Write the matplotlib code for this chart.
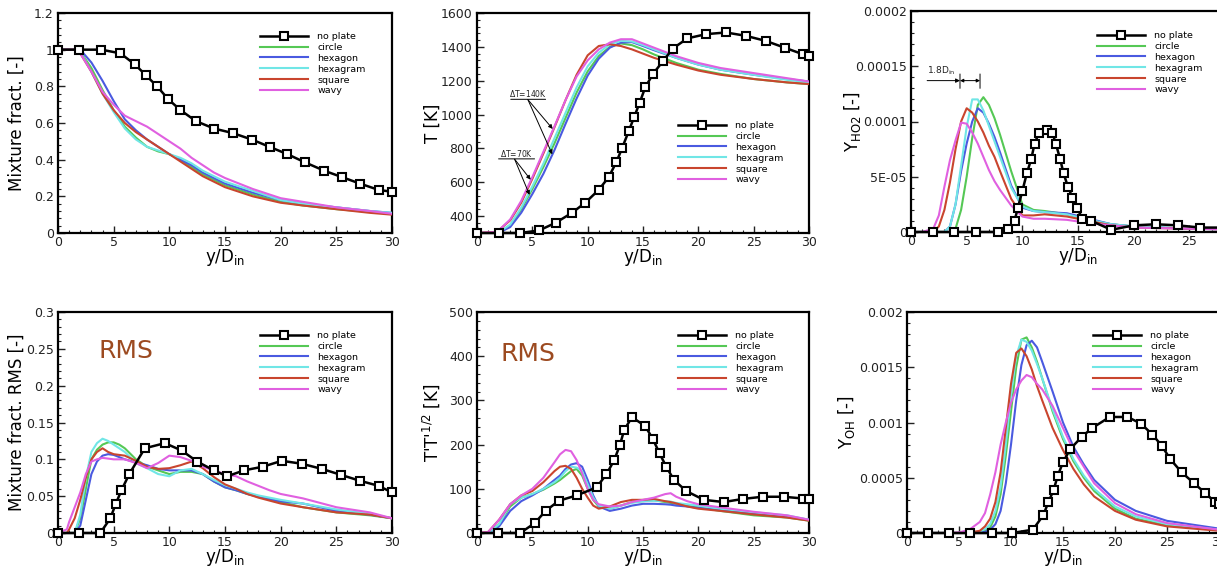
import numpy as np
import matplotlib
matplotlib.use("Agg")
import matplotlib.pyplot as plt
from matplotlib.ticker import MultipleLocator, AutoMinorLocator, FixedLocator, FixedFormatter

plt.rcParams['font.family'] = ['DejaVu Sans']
plt.rcParams['mathtext.default'] = 'regular'

# ---------------- data ----------------
names = ['no plate', 'circle', 'hexagon', 'hexagram', 'square', 'wavy']
colors = ['black', '#55c855', '#4a5ae0', '#70e6e6', '#c9452e', '#e060e0']

# mixture fraction
x_mf = [0, 1, 1.5, 2, 3, 4, 5, 6, 7, 8, 9, 10, 11, 12, 13, 14, 15, 17.5, 20, 22, 25, 28, 30]
mf_circle = [1, 1, 1, .99, .9, .78, .67, .58, .52, .47, .445, .43, .4, .36, .32, .29, .26, .21, .17, .15, .13, .115, .105]
mf_hexagon = [1, 1, 1, 1, .93, .83, .72, .62, .56, .51, .47, .43, .4, .37, .33, .3, .27, .22, .18, .16, .14, .12, .11]
mf_hexagram = [1, 1, 1, .99, .88, .76, .66, .57, .51, .47, .45, .43, .41, .38, .34, .31, .28, .23, .18, .16, .14, .12, .11]
mf_square = [1, 1, 1, .98, .88, .76, .67, .6, .55, .51, .47, .43, .39, .35, .31, .28, .25, .2, .165, .15, .13, .11, .1]
mf_wavy = [1, 1, 1, .98, .88, .77, .7, .64, .61, .58, .54, .5, .46, .41, .37, .33, .3, .24, .19, .17, .14, .12, .105]
x_mf_np = [0, 1.9, 3.9, 5.6, 6.9, 7.9, 8.9, 9.9, 11, 12.4, 14, 15.7, 17.4, 19, 20.6, 22.2, 23.9, 25.5, 27.1, 28.8, 30]
mf_noplate = [1, 1, 1, .98, .92, .86, .8, .73, .67, .61, .57, .545, .51, .47, .43, .385, .34, .305, .27, .235, .225]

# temperature
x_t = [0, 1.5, 2, 3, 4, 5, 6, 7, 8, 9, 10, 11, 12, 13, 14, 15, 16, 18, 20, 22, 25, 28, 30]
t_circle = [300, 300, 305, 345, 440, 560, 690, 830, 980, 1130, 1255, 1345, 1400, 1420, 1410, 1385, 1355, 1305, 1265, 1240, 1210, 1190, 1180]
t_hexagon = [300, 300, 302, 335, 420, 530, 650, 790, 945, 1095, 1230, 1330, 1395, 1425, 1428, 1405, 1380, 1335, 1295, 1265, 1235, 1210, 1195]
t_hexagram = [300, 300, 305, 350, 450, 575, 710, 860, 1010, 1160, 1285, 1365, 1415, 1435, 1432, 1410, 1385, 1335, 1295, 1265, 1235, 1205, 1190]
t_square = [300, 305, 318, 375, 480, 620, 770, 925, 1085, 1235, 1350, 1405, 1415, 1405, 1385, 1360, 1335, 1295, 1260, 1235, 1210, 1190, 1180]
t_wavy = [300, 305, 318, 380, 490, 630, 780, 930, 1085, 1225, 1320, 1385, 1425, 1445, 1445, 1420, 1395, 1345, 1305, 1275, 1245, 1215, 1195]
x_t_np = [0, 2, 3.9, 5.6, 7.1, 8.6, 9.8, 11, 11.9, 12.6, 13.1, 13.7, 14.2, 14.7, 15.2, 15.9, 16.8, 17.7, 19,
          20.7, 22.5, 24.3, 26.1, 27.8, 29.5, 30]
t_noplate = [300, 300, 300, 315, 360, 420, 480, 555, 630, 720, 800, 900, 985, 1070, 1160, 1240, 1315, 1390, 1450,
             1475, 1485, 1465, 1435, 1395, 1355, 1345]

# Y_HO2, in units of 1e-5
x_ho2 = [0, 1, 2, 2.5, 3, 3.5, 4, 4.5, 5, 5.5, 6, 6.5, 7, 7.5, 8, 9, 10, 11, 12, 14, 16, 18, 20, 25, 30]
ho2_circle = [0, 0, 0, 0, 0, 0, 0.3, 2.0, 5.0, 8.5, 11.5, 12.2, 11.5, 10.3, 8.8, 5.5, 2.5, 2.0, 1.9, 1.6, 1.1, 0.7, 0.5, 0.3, 0.2]
ho2_hexagon = [0, 0, 0, 0, 0, 0.5, 2.5, 5.5, 8.0, 10.0, 11.2, 10.8, 9.8, 8.6, 7.2, 4.2, 2.2, 1.9, 1.8, 1.7, 1.2, 0.7, 0.5, 0.3, 0.2]
ho2_hexagram = [0, 0, 0, 0, 0, 0.5, 2.5, 6.0, 9.5, 12.0, 12.0, 11.0, 9.6, 8.2, 6.8, 4.0, 2.3, 1.9, 1.8, 1.6, 1.1, 0.7, 0.5, 0.3, 0.2]
ho2_square = [0, 0, 0, 0.5, 2.0, 4.5, 7.5, 10.0, 11.2, 10.8, 10.0, 9.0, 7.8, 6.8, 5.5, 3.0, 1.5, 1.5, 1.6, 1.4, 1.0, 0.6, 0.4, 0.3, 0.2]
ho2_wavy = [0, 0, 0.3, 1.5, 4.1, 6.5, 8.3, 9.9, 9.8, 9.0, 8.0, 6.8, 5.6, 4.6, 3.8, 2.4, 1.4, 1.2, 1.2, 1.1, 0.8, 0.6, 0.4, 0.3, 0.2]
x_ho2_np = [0, 2, 3.9, 5.8, 7.8, 8.7, 9.3, 9.6, 10.0, 10.4, 10.8, 11.1, 11.5, 12.2, 12.7, 13.0, 13.4, 13.7, 14.1,
            14.5, 14.9, 15.4, 16.2, 18, 20, 22, 24, 26, 28, 30]
ho2_noplate = [0, 0, 0, 0, 0, 0.3, 1.0, 2.2, 3.7, 5.3, 6.6, 8.0, 9.0, 9.2, 9.0, 8.0, 6.6, 5.3, 4.1,
               3.1, 2.2, 1.2, 1.0, 0.2, 0.6, 0.7, 0.6, 0.4, 0.4, 0.3]

# mixture fraction RMS
x_mr = [0, 0.8, 1, 1.5, 2, 2.5, 3, 3.5, 4, 4.5, 5, 5.5, 6, 7, 8, 9, 10, 11, 12, 13, 14, 15, 16, 17, 18, 19, 20, 22, 25, 28, 30]
mr_circle = [0, 0, 0, 0, .02, .06, .1, .113, .12, .123, .123, .12, .115, .1, .09, .085, .08, .083, .083, .08, .07, .062, .058, .053, .05, .046, .042, .035, .028, .024, .02]
mr_hexagon = [0, 0, 0, 0, .01, .045, .08, .097, .105, .107, .106, .103, .1, .096, .092, .087, .085, .085, .085, .08, .07, .062, .058, .053, .049, .046, .043, .04, .03, .025, .02]
mr_hexagram = [0, 0, 0, 0, .025, .075, .11, .122, .128, .125, .12, .115, .11, .095, .088, .08, .077, .085, .087, .08, .072, .065, .06, .055, .051, .048, .045, .04, .032, .026, .02]
mr_square = [0, 0, .005, .02, .045, .075, .1, .11, .115, .11, .107, .106, .105, .098, .09, .087, .088, .092, .097, .088, .076, .066, .06, .053, .048, .044, .04, .035, .028, .025, .02]
mr_wavy = [0, .005, .015, .035, .055, .08, .097, .1, .102, .101, .1, .1, .1, .095, .088, .095, .105, .103, .098, .09, .085, .08, .077, .07, .064, .058, .053, .047, .035, .028, .02]
x_mr_np = [0, 1.9, 3.8, 4.7, 5.2, 5.7, 6.4, 7.8, 9.6, 11.1, 12.5, 14, 15.2, 16.7, 18.4, 20.1, 21.9, 23.7, 25.4, 27.1, 28.8, 30]
mr_noplate = [0, 0, 0, .02, .04, .058, .08, .115, .122, .112, .097, .085, .077, .085, .09, .098, .094, .087, .079, .071, .064, .055]

# temperature RMS
x_tr = [0, 1, 2, 3, 4, 5, 6, 7, 7.5, 8, 8.5, 9, 9.5, 10, 10.5, 11, 12, 13, 14, 15, 16, 17, 17.5, 18, 19, 20, 22, 25, 28, 30]
tr_circle = [0, 0, 20, 60, 80, 88, 98, 112, 120, 130, 140, 145, 130, 100, 75, 60, 55, 62, 70, 72, 74, 70, 68, 66, 62, 58, 50, 40, 35, 28]
tr_hexagon = [0, 0, 15, 50, 72, 85, 100, 120, 130, 145, 155, 158, 150, 120, 85, 60, 50, 55, 62, 66, 66, 65, 64, 62, 60, 57, 52, 45, 38, 30]
tr_hexagram = [0, 0, 20, 65, 80, 88, 100, 115, 125, 140, 150, 148, 140, 110, 80, 62, 55, 62, 68, 72, 73, 72, 71, 68, 65, 62, 55, 47, 40, 30]
tr_square = [0, 2, 30, 65, 85, 95, 115, 140, 150, 152, 145, 125, 100, 80, 62, 55, 60, 70, 75, 75, 77, 72, 70, 67, 60, 55, 50, 42, 35, 28]
tr_wavy = [0, 2, 30, 65, 85, 100, 125, 160, 178, 188, 185, 165, 135, 100, 75, 65, 60, 62, 70, 75, 80, 88, 90, 82, 72, 65, 58, 48, 40, 30]
x_tr_np = [0, 1.9, 3.9, 5.2, 6.2, 7.4, 9, 10.8, 11.7, 12.4, 12.9, 13.3, 14.0, 15.2, 15.9, 16.5, 17.1, 17.8, 18.9,
           20.5, 22.3, 24, 25.8, 27.7, 29.5, 30]
tr_noplate = [0, 0, 0, 22, 50, 73, 85, 103, 133, 165, 198, 233, 262, 242, 212, 180, 150, 120, 95,
              75, 70, 77, 82, 82, 78, 76]

# Y_OH, in units of 1e-4
x_oh = [0, 4, 5, 6, 7, 7.5, 8, 8.5, 9, 9.5, 10, 10.5, 11, 11.5, 12, 12.5, 13, 14, 15, 16, 17, 18, 20, 22, 25, 30]
oh_circle = [0, 0, 0, 0, 0.1, 0.2, 0.5, 1.5, 3.5, 7, 11, 15, 17.5, 17.7, 16.8, 15.5, 14, 11, 8.5, 6.5, 5, 3.8, 2.2, 1.3, 0.7, 0.3]
oh_hexagon = [0, 0, 0, 0, 0.05, 0.1, 0.3, 0.8, 2, 4.5, 8, 12, 15.2, 17, 17.4, 16.8, 15.5, 12.8, 10, 7.8, 6.2, 4.8, 3.0, 2.0, 1.1, 0.4]
oh_hexagram = [0, 0, 0, 0, 0.15, 0.35, 0.8, 2, 4.2, 8, 12.5, 16, 17.5, 17.3, 16.5, 15.3, 14, 11.2, 8.7, 6.7, 5.2, 4.0, 2.4, 1.5, 0.8, 0.3]
oh_square = [0, 0, 0, 0.05, 0.2, 0.6, 1.3, 2.8, 5.5, 9.5, 13.5, 16.3, 16.7, 16, 14.8, 13.3, 12, 9.5, 7.5, 5.8, 4.4, 3.3, 2.0, 1.2, 0.6, 0.2]
oh_wavy = [0, 0, 0.05, 0.3, 1.0, 1.8, 3.5, 5.5, 8, 10, 11.8, 13, 13.8, 14.3, 14.1, 13.5, 13, 11.5, 9.5, 7.5, 6.0, 4.5, 2.7, 1.7, 0.9, 0.3]
x_oh_np = [0, 2, 4, 6.1, 8.2, 10.1, 12.1, 13.1, 13.6, 14.1, 14.5, 15, 15.7, 16.8, 17.8, 19.5, 21.2, 22.5, 23.6,
           24.5, 25.3, 26.4, 27.6, 28.7, 29.6, 30]
oh_noplate = [0, 0, 0, 0, 0, 0, 0.3, 1.6, 2.8, 3.9, 5.2, 6.4, 7.6, 8.7, 9.5, 10.5, 10.5, 9.9, 8.9,
              7.9, 6.7, 5.5, 4.5, 3.6, 2.8, 2.6]

# tick labels
mf_ticks = [0, 0.2, 0.4, 0.6, 0.8, 1.0, 1.2]
mf_ticklabels = ['0', '0.2', '0.4', '0.6', '0.8', '1', '1.2']
t_ticks = [400, 600, 800, 1000, 1200, 1400, 1600]
t_ticklabels = ['400', '600', '800', '1000', '1200', '1400', '1600']
ho2_ticks = [0, 5e-5, 1e-4, 1.5e-4, 2e-4]
ho2_ticklabels = ['0', '5E-05', '0.0001', '0.00015', '0.0002']
mr_ticks = [0, 0.05, 0.1, 0.15, 0.2, 0.25, 0.3]
mr_ticklabels = ['0', '0.05', '0.1', '0.15', '0.2', '0.25', '0.3']
tr_ticks = [0, 100, 200, 300, 400, 500]
tr_ticklabels = ['0', '100', '200', '300', '400', '500']
oh_ticks = [0, 5e-4, 1e-3, 1.5e-3, 2e-3]
oh_ticklabels = ['0', '0.0005', '0.001', '0.0015', '0.002']
x_ticks = [0, 5, 10, 15, 20, 25, 30]
x_ticklabels = ['0', '5', '10', '15', '20', '25', '30']


# ---------------- figure ----------------
W, H = 1217, 568
fig = plt.figure(figsize=(W / 100, H / 100), dpi=100)


def px_axes(left, right, top, bottom):
    return fig.add_axes([left / W, 1 - bottom / H, (right - left) / W, (bottom - top) / H])


def panel(ax, xc, curves, xnp, ynp, scale, ylim, yticks, yticklabels, ylabel, ylab_x, leg_xy):
    l, = ax.plot(np.array(xnp), np.array(ynp) * scale, '-s', color='black', lw=1.8, ms=6,
                 mfc='white', mec='black', mew=1.5, clip_on=False, zorder=5, label=names[0])
    handles = [l]
    for name, c, yv in zip(names[1:], colors[1:], curves):
        h, = ax.plot(xc, np.array(yv) * scale, color=c, lw=1.5, label=name, zorder=3)
        handles.append(h)
    ax.set_xlim(0, 30)
    ax.set_ylim(*ylim)
    ax.xaxis.set_major_locator(FixedLocator(x_ticks))
    ax.xaxis.set_major_formatter(FixedFormatter(x_ticklabels))
    ax.xaxis.set_minor_locator(MultipleLocator(1))
    ax.yaxis.set_major_locator(FixedLocator(yticks))
    ax.yaxis.set_major_formatter(FixedFormatter(yticklabels))
    ax.yaxis.set_minor_locator(AutoMinorLocator(5))
    ax.tick_params(which='both', direction='in', labelsize=9, colors='#222222')
    ax.tick_params(axis='x', pad=2)
    ax.tick_params(axis='y', pad=3)
    ax.tick_params(which='major', length=5, width=1)
    ax.tick_params(which='minor', length=2.5, width=0.8)
    for s in ax.spines.values():
        s.set_linewidth(1.6)
    ax.set_xlabel('y/D$_{in}$', fontsize=12)
    ax.xaxis.set_label_coords(0.5, -0.062)
    ax.set_ylabel(ylabel, fontsize=12)
    ax.yaxis.set_label_coords(ylab_x, 0.5)
    ax.legend(handles=handles, loc='upper left', bbox_to_anchor=(leg_xy[0] / W, 1 - leg_xy[1] / H),
              bbox_transform=fig.transFigure, frameon=False, fontsize=6.8, handlelength=5.1,
              handletextpad=0.95, labelspacing=0.2, borderpad=0, borderaxespad=0, numpoints=1,
              markerscale=0.85)


ax1 = px_axes(58, 392, 13, 233)
panel(ax1, x_mf, [mf_circle, mf_hexagon, mf_hexagram, mf_square, mf_wavy], x_mf_np, mf_noplate, 1,
      (0, 1.2), mf_ticks, mf_ticklabels, 'Mixture fract. [-]', -0.097, (260, 32))

ax2 = px_axes(477, 809, 13, 233)
panel(ax2, x_t, [t_circle, t_hexagon, t_hexagram, t_square, t_wavy], x_t_np, t_noplate, 1,
      (300, 1600), t_ticks, t_ticklabels, 'T [K]', -0.106, (678, 121))
ax2.yaxis.set_minor_locator(MultipleLocator(40))

ax3 = px_axes(911, 1245, 11, 232)
panel(ax3, x_ho2, [ho2_circle, ho2_hexagon, ho2_hexagram, ho2_square, ho2_wavy], x_ho2_np, ho2_noplate, 1e-5,
      (0, 2e-4), ho2_ticks, ho2_ticklabels, 'Y$_{HO2}$ [-]', -0.143, (1097, 31))

ax4 = px_axes(58, 392, 312, 533)
panel(ax4, x_mr, [mr_circle, mr_hexagon, mr_hexagram, mr_square, mr_wavy], x_mr_np, mr_noplate, 1,
      (0, 0.3), mr_ticks, mr_ticklabels, 'Mixture fract. RMS [-]', -0.097, (260, 331))

ax5 = px_axes(477, 809, 312, 533)
panel(ax5, x_tr, [tr_circle, tr_hexagon, tr_hexagram, tr_square, tr_wavy], x_tr_np, tr_noplate, 1,
      (0, 500), tr_ticks, tr_ticklabels, "T'T'$^{1/2}$ [K]", -0.106, (678, 331))

ax6 = px_axes(907, 1219, 312, 533)
panel(ax6, x_oh, [oh_circle, oh_hexagon, oh_hexagram, oh_square, oh_wavy], x_oh_np, oh_noplate, 1e-4,
      (0, 2e-3), oh_ticks, oh_ticklabels, 'Y$_{OH}$ [-]', -0.159, (1093, 331))

# RMS labels
ax4.text(0.12, 0.825, 'RMS', transform=ax4.transAxes, fontsize=18, color='#9c4a20',
         ha='left', va='center')
ax5.text(0.07, 0.81, 'RMS', transform=ax5.transAxes, fontsize=18, color='#9c4a20',
         ha='left', va='center')

# delta T annotations
arrow = dict(arrowstyle='-|>', color='black', lw=0.7, mutation_scale=6, shrinkA=0, shrinkB=0)
line = dict(arrowstyle='-', color='black', lw=0.7, shrinkA=0, shrinkB=0)
ax2.text(4.6, 1125, r'$\Delta$T=140K', fontsize=5.5, ha='center', va='center', color='#222222')
ax2.annotate('', xy=(6.2, 1090), xytext=(3.05, 1090), arrowprops=line)
ax2.annotate('', xy=(6.84, 915), xytext=(4.6, 1088), arrowprops=arrow)
ax2.annotate('', xy=(6.8, 765), xytext=(4.6, 1088), arrowprops=arrow)
ax2.text(3.55, 768, r'$\Delta$T=70K', fontsize=5.5, ha='center', va='center', color='#222222')
ax2.annotate('', xy=(5.2, 738), xytext=(1.95, 738), arrowprops=line)
ax2.annotate('', xy=(4.85, 615), xytext=(3.4, 736), arrowprops=arrow)
ax2.annotate('', xy=(4.75, 525), xytext=(3.4, 736), arrowprops=arrow)

# 1.8 D_in annotation
ax3.text(1.45, 1.405e-4, '1.8D$_{in}$', fontsize=6.5, ha='left', va='bottom', color='#222222')
ax3.annotate('', xy=(4.4, 1.37e-4), xytext=(1.45, 1.37e-4), arrowprops=arrow)
ax3.annotate('', xy=(4.4, 1.30e-4), xytext=(4.4, 1.43e-4), arrowprops=line)
ax3.annotate('', xy=(6.2, 1.30e-4), xytext=(6.2, 1.43e-4), arrowprops=line)
ax3.annotate('', xy=(6.2, 1.37e-4), xytext=(4.4, 1.37e-4),
             arrowprops=dict(arrowstyle='<|-|>', color='black', lw=0.7, mutation_scale=5, shrinkA=0, shrinkB=0))

fig.savefig('out.png', dpi=100)
